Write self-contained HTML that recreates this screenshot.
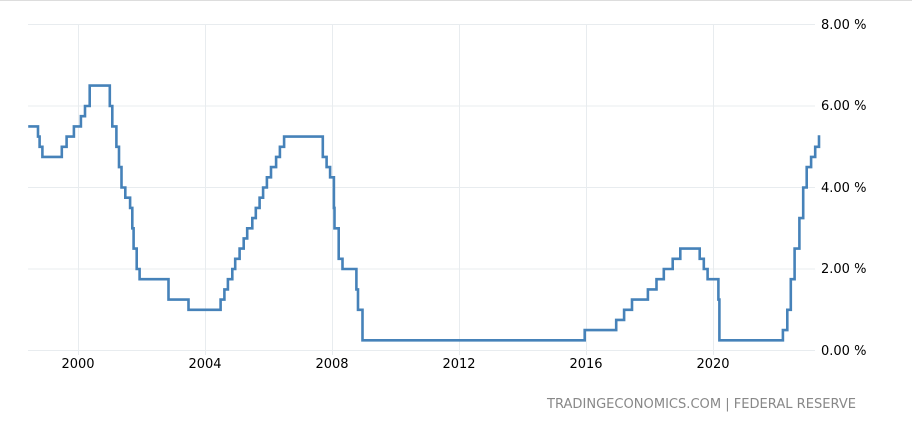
<!DOCTYPE html>
<html><head><meta charset="utf-8"><style>
html,body{margin:0;padding:0;background:#fff;width:912px;height:425px;overflow:hidden}
svg text{font-family:"DejaVu Sans","Liberation Sans",sans-serif}
</style></head><body>
<svg id="s" width="912" height="425" viewBox="0 0 912 425" xmlns="http://www.w3.org/2000/svg">
<line x1="0" y1="0.5" x2="912" y2="0.5" stroke="#ddd"/>
<g stroke="#e8ecef" stroke-width="1">
<line x1="28" y1="24.5" x2="815" y2="24.5"/>
<line x1="28" y1="106" x2="815" y2="106"/>
<line x1="28" y1="187.5" x2="815" y2="187.5"/>
<line x1="28" y1="269" x2="815" y2="269"/>
<line x1="28" y1="350.5" x2="815" y2="350.5"/>
<line x1="78.5" y1="24" x2="78.5" y2="355"/>
<line x1="205.5" y1="24" x2="205.5" y2="355"/>
<line x1="332.5" y1="24" x2="332.5" y2="355"/>
<line x1="459.5" y1="24" x2="459.5" y2="355"/>
<line x1="586.5" y1="24" x2="586.5" y2="355"/>
<line x1="713.5" y1="24" x2="713.5" y2="355"/>
</g>
<g font-size="13" fill="#000">
<text x="821" y="29">8.00 %</text>
<text x="821" y="110">6.00 %</text>
<text x="821" y="192">4.00 %</text>
<text x="821" y="273">2.00 %</text>
<text x="821" y="355">0.00 %</text>
</g>
<g font-size="13" fill="#000" text-anchor="middle">
<text x="78" y="368">2000</text>
<text x="205" y="368">2004</text>
<text x="332" y="368">2008</text>
<text x="459" y="368">2012</text>
<text x="586" y="368">2016</text>
<text x="713" y="368">2020</text>
</g>
<text x="547" y="408" font-size="13" fill="#888" textLength="309" lengthAdjust="spacingAndGlyphs">TRADINGECONOMICS.COM | FEDERAL RESERVE</text>
<path id="p" fill="none" stroke="#4682b9" stroke-width="2.6" stroke-linejoin="miter"/>
</svg>
<script>
var d=[[1998.43,5.5],[1998.74,5.25],[1998.79,5.0],[1998.88,4.75],[1999.49,5.0],[1999.64,5.25],[1999.87,5.5],[2000.09,5.75],[2000.22,6.0],[2000.37,6.5],[2001.0,6.0],[2001.08,5.5],[2001.21,5.0],[2001.29,4.5],[2001.37,4.0],[2001.49,3.75],[2001.64,3.5],[2001.71,3.0],[2001.75,2.5],[2001.85,2.0],[2001.94,1.75],[2002.85,1.25],[2003.48,1.0],[2004.49,1.25],[2004.61,1.5],[2004.72,1.75],[2004.86,2.0],[2004.95,2.25],[2005.09,2.5],[2005.22,2.75],[2005.33,3.0],[2005.49,3.25],[2005.6,3.5],[2005.72,3.75],[2005.83,4.0],[2005.95,4.25],[2006.08,4.5],[2006.24,4.75],[2006.36,5.0],[2006.49,5.25],[2007.71,4.75],[2007.83,4.5],[2007.94,4.25],[2008.06,3.5],[2008.08,3.0],[2008.21,2.25],[2008.33,2.0],[2008.77,1.5],[2008.82,1.0],[2008.96,0.25],[2015.96,0.5],[2016.95,0.75],[2017.2,1.0],[2017.45,1.25],[2017.95,1.5],[2018.22,1.75],[2018.45,2.0],[2018.73,2.25],[2018.97,2.5],[2019.58,2.25],[2019.71,2.0],[2019.83,1.75],[2020.17,1.25],[2020.2,0.25],[2022.2,0.5],[2022.34,1.0],[2022.45,1.75],[2022.57,2.5],[2022.72,3.25],[2022.84,4.0],[2022.95,4.5],[2023.09,4.75],[2023.22,5.0],[2023.34,5.25],[2023.38,5.25]];
function X(t){return 78+(t-2000)*31.75}function Y(r){return 350.5-r*40.75}
var s="M"+X(d[0][0]).toFixed(1)+" "+Y(d[0][1]).toFixed(1);
for(var i=1;i<d.length;i++){s+=" H"+X(d[i][0]).toFixed(1)+" V"+Y(d[i][1]).toFixed(1);}
document.getElementById("p").setAttribute("d",s);
</script>
</body></html>
